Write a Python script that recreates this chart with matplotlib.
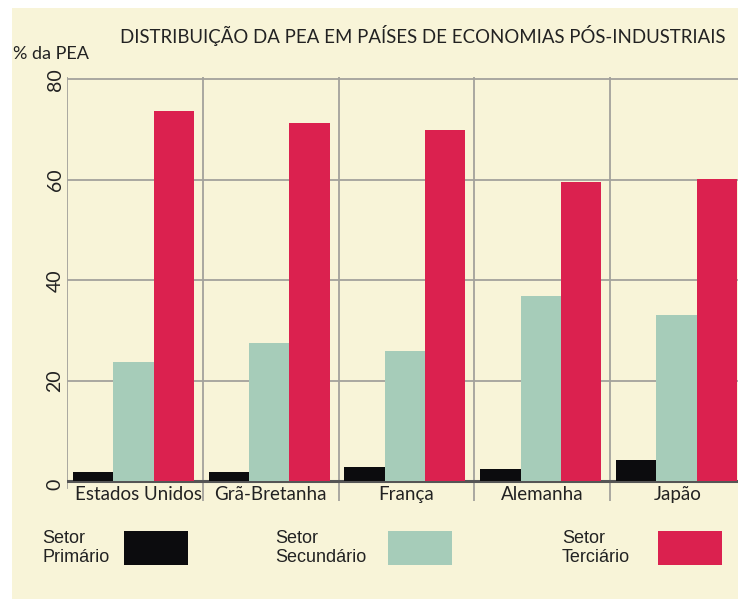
import matplotlib
matplotlib.use('Agg')
import matplotlib.pyplot as plt
from matplotlib.patches import Rectangle

paises = ['Estados Unidos', 'Grã-Bretanha', 'França', 'Alemanha', 'Japão']
primario = [1.8, 1.8, 2.8, 2.4, 4.2]
secundario = [23.7, 27.5, 25.9, 36.9, 33.1]
terciario = [73.7, 71.3, 69.9, 59.6, 60.2]
setores = ['Setor\nPrimário', 'Setor\nSecundário', 'Setor\nTerciário']
yticks = [0, 20, 40, 60, 80]

W, H = 738, 599
cor_fundo = '#f8f4d8'
cores = ['#0c0c0e', '#a6ccb9', '#db214f']
cinza = '#a3a29c'
texto = '#222222'

def fx(x):
    return x / W

def fy(y):
    return 1 - y / H

fig = plt.figure(figsize=(W / 100, H / 100), dpi=100)
fig.patch.set_facecolor('white')
fig.add_artist(Rectangle((fx(12), 0), 1, fy(8), transform=fig.transFigure,
                         facecolor=cor_fundo, edgecolor='none', zorder=0))

grupo = 135.75
ax = fig.add_axes([fx(67), fy(501.1), 1 - fx(67), fy(76.9) - fy(501.1)])
ax.set_facecolor('none')
for s in ax.spines.values():
    s.set_visible(False)
ax.set_xticks([])
ax.set_yticks([])
xmax = (W - 67) / grupo
ax.set_xlim(0, xmax)
ax.set_ylim(-4, 80.5)

# grade
for v in yticks[1:]:
    ax.plot([0, xmax], [v, v], color=cinza, lw=1.3, zorder=1)
ax.plot([0, xmax], [0, 0], color='#555555', lw=2.2, zorder=2)
ax.plot([0, 0], [-1.4, 80.4], color=cinza, lw=1.3, zorder=1)
for i in range(1, len(paises)):
    ax.plot([i, i], [-4, 80.4], color=cinza, lw=1.3, zorder=1)

# barras
larg = 0.297
x0 = 0.044 + larg / 2
for j, serie in enumerate([primario, secundario, terciario]):
    xs = [i + x0 + j * larg for i in range(len(paises))]
    ax.bar(xs, serie, width=larg, color=cores[j], zorder=3, linewidth=0)

for i, p in enumerate(paises):
    ax.text(i + 0.53 if i == 0 else i + 0.5, -2.6, p, ha='center', va='center',
            fontsize=13.5, family='Lato', color=texto, zorder=4)

for v in yticks:
    ax.text(-12 / grupo, v + (-0.6 if v == 0 else 0), str(v), rotation=90,
            ha='center', va='center', fontsize=14, family='Lato',
            color=texto, clip_on=False)

fig.text(fx(422.5), fy(35), 'DISTRIBUIÇÃO DA PEA EM PAÍSES DE ECONOMIAS PÓS-INDUSTRIAIS',
         ha='center', va='center', fontsize=13.4, family='Lato', color=texto)
fig.text(fx(13), fy(54), '% da PEA', ha='left', va='center', fontsize=13,
         family='Lato', color=texto)

# legenda
leg_txt = [42, 275, 562]
leg_box = [124, 388, 658]
for k in range(3):
    fig.text(fx(leg_txt[k]), fy(548), setores[k], ha='left', va='center',
             fontsize=13, family='Liberation Sans', color=texto, linespacing=1.15)
    fig.add_artist(Rectangle((fx(leg_box[k]), fy(565)), fx(64), fy(531) - fy(565),
                             transform=fig.transFigure, facecolor=cores[k],
                             edgecolor='none'))

fig.savefig('out.png', dpi=100)
